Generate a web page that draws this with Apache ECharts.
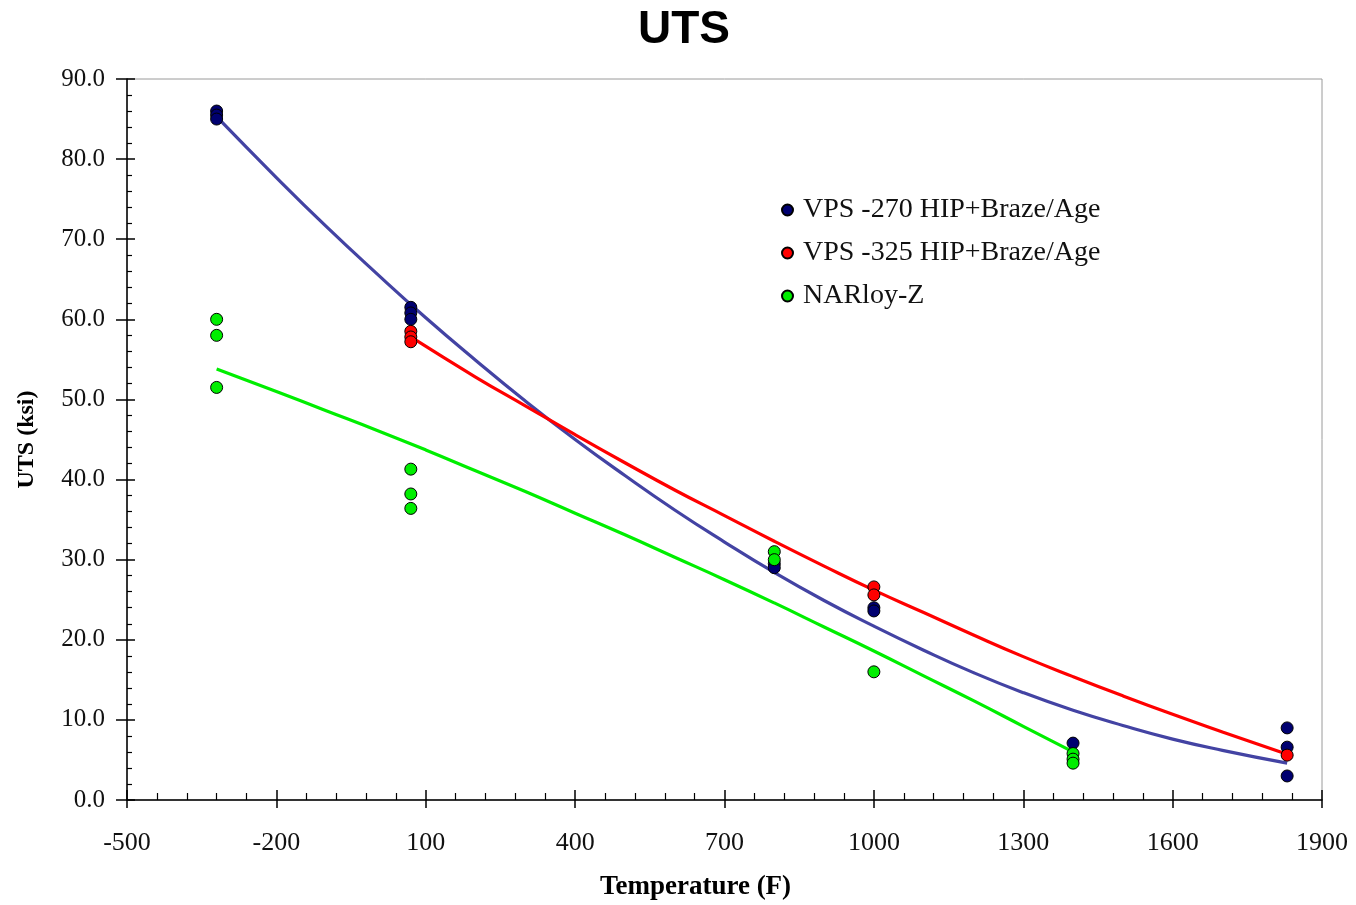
<!DOCTYPE html>
<html>
<head>
<meta charset="utf-8">
<script src="https://cdn.jsdelivr.net/npm/echarts@6/dist/echarts.min.js"></script>
<style>html,body{margin:0;padding:0;background:#fff}#c{width:1356px;height:905px}</style>
</head>
<body>
<div id="c"></div>
<script>
// Measured points
const vps270Temp = [-320, -320, -320, 70, 70, 70, 800, 800, 1000, 1000, 1400, 1830, 1830, 1830];
const vps270Uts  = [86.0, 85.5, 85.0, 61.5, 60.8, 60.0, 29.5, 29.0, 24.0, 23.6, 7.1, 9.0, 6.6, 3.0];
const vps325Temp = [70, 70, 70, 1000, 1000, 1830];
const vps325Uts  = [58.5, 57.8, 57.2, 26.6, 25.6, 5.6];
const narloyTemp = [-320, -320, -320, 70, 70, 70, 800, 800, 1000, 1400, 1400, 1400];
const narloyUts  = [60.0, 58.0, 51.5, 41.3, 38.2, 36.4, 31.0, 30.0, 16.0, 5.8, 5.1, 4.6];
// Trend lines
const trend270Temp = [-320, -200, -100, 0, 100, 200, 300, 400, 500, 600, 700, 800, 900, 1000, 1100, 1200, 1300, 1400, 1500, 1600, 1700, 1830];
const trend270Uts  = [85.3, 77.7, 71.6, 65.8, 60.2, 54.9, 49.8, 45.0, 40.5, 36.2, 32.2, 28.4, 24.9, 21.7, 18.7, 15.9, 13.4, 11.2, 9.3, 7.6, 6.2, 4.6];
const trend325Temp = [70, 200, 300, 400, 500, 600, 700, 800, 900, 1000, 1100, 1200, 1300, 1400, 1500, 1600, 1700, 1830];
const trend325Uts  = [57.8, 52.8, 49.2, 45.6, 42.1, 38.7, 35.5, 32.3, 29.2, 26.2, 23.4, 20.6, 17.9, 15.4, 13.0, 10.7, 8.5, 5.7];
const trendNarTemp = [-320, -200, -100, 0, 100, 200, 300, 400, 500, 600, 700, 800, 900, 1000, 1100, 1200, 1300, 1400];
const trendNarUts  = [53.8, 51.0, 48.6, 46.2, 43.7, 41.1, 38.5, 35.8, 33.1, 30.3, 27.5, 24.6, 21.6, 18.6, 15.5, 12.4, 9.2, 6.0];
const seriesNames = ['VPS -270 HIP+Braze/Age', 'VPS -325 HIP+Braze/Age', 'NARloy-Z'];

const zip = (a, b) => a.map((v, i) => [v, b[i]]);
const serif = '"Liberation Serif", "Times New Roman", serif';
const gridRect = { left: 127, right: 34, top: 79, bottom: 105, outerBoundsMode: 'none', containLabel: false };

const chart = echarts.init(document.getElementById('c'));
chart.setOption({
  animation: false,
  backgroundColor: '#fff',
  title: {
    text: 'UTS', left: 633, top: 2,
    textStyle: { fontFamily: '"Liberation Sans", Arial, sans-serif', fontWeight: 'bold', fontSize: 46, color: '#000' }
  },
  legend: {
    data: seriesNames, orient: 'vertical', left: 776, top: 191,
    itemWidth: 11, itemHeight: 11, itemGap: 15, icon: 'circle',
    textStyle: { fontFamily: serif, fontSize: 28, color: '#111', lineHeight: 27, padding: [0, 0, 0, 5] }
  },
  grid: [
    Object.assign({ show: true, borderColor: '#9a9a9a', borderWidth: 1 }, gridRect),
    Object.assign({ show: false }, gridRect)
  ],
  xAxis: [
    {
      type: 'value', gridIndex: 0, min: -500, max: 1900, interval: 300,
      name: 'Temperature (F)', nameLocation: 'middle', nameGap: 74,
      nameTextStyle: { fontFamily: serif, fontWeight: 'bold', fontSize: 27, color: '#000', padding: [0, 58, 0, 0] },
      axisLine: { show: true, onZero: false, lineStyle: { color: '#000', width: 1.5 } },
      axisTick: { show: true, inside: false, length: 8, lineStyle: { color: '#000', width: 1.5 } },
      axisLabel: { fontFamily: serif, fontSize: 26, color: '#111', margin: 30, formatter: v => String(v) },
      splitLine: { show: false }
    },
    {
      type: 'value', gridIndex: 1, min: -500, max: 1900, interval: 300,
      axisLine: { show: false, onZero: false },
      axisTick: { show: true, inside: true, length: 10, lineStyle: { color: '#000', width: 1.5 } },
      minorTick: { show: true, splitNumber: 5, length: 7, lineStyle: { color: '#000', width: 1.2 } },
      axisLabel: { show: false }, splitLine: { show: false }
    }
  ],
  yAxis: [
    {
      type: 'value', gridIndex: 0, min: 0, max: 90, interval: 10,
      name: 'UTS (ksi)', nameLocation: 'middle', nameGap: 88, nameRotate: 90,
      nameTextStyle: { fontFamily: serif, fontWeight: 'bold', fontSize: 24, color: '#000', padding: [0, 0, 0, 0] },
      axisLine: { show: true, onZero: false, lineStyle: { color: '#000', width: 1.5 } },
      axisTick: { show: true, inside: false, length: 11, lineStyle: { color: '#000', width: 1.5 } },
      axisLabel: { fontFamily: serif, fontSize: 25, color: '#111', margin: 22, formatter: v => v.toFixed(1) },
      splitLine: { show: false }
    },
    {
      type: 'value', gridIndex: 1, min: 0, max: 90, interval: 10,
      axisLine: { show: false, onZero: false },
      axisTick: { show: true, inside: true, length: 8, lineStyle: { color: '#000', width: 1.5 } },
      minorTick: { show: true, splitNumber: 5, length: 5, lineStyle: { color: '#000', width: 1.2 } },
      axisLabel: { show: false }, splitLine: { show: false }
    }
  ],
  series: [
    { name: 'trend270', type: 'line', smooth: true, showSymbol: false, data: zip(trend270Temp, trend270Uts),
      lineStyle: { color: '#4343a3', width: 3.2 }, z: 2, silent: true },
    { name: 'trend325', type: 'line', smooth: true, showSymbol: false, data: zip(trend325Temp, trend325Uts),
      lineStyle: { color: '#ff0000', width: 3.2 }, z: 2, silent: true },
    { name: 'trendNar', type: 'line', smooth: true, showSymbol: false, data: zip(trendNarTemp, trendNarUts),
      lineStyle: { color: '#00ee00', width: 3.2 }, z: 2, silent: true },
    { name: seriesNames[0], type: 'scatter', symbolSize: 12, data: zip(vps270Temp, vps270Uts),
      itemStyle: { color: '#000070', borderColor: '#000', borderWidth: 1, opacity: 1 }, z: 3 },
    { name: seriesNames[1], type: 'scatter', symbolSize: 12, data: zip(vps325Temp, vps325Uts),
      itemStyle: { color: '#ff0000', borderColor: '#000', borderWidth: 1, opacity: 1 }, z: 3 },
    { name: seriesNames[2], type: 'scatter', symbolSize: 12, data: zip(narloyTemp, narloyUts),
      itemStyle: { color: '#00ee00', borderColor: '#000', borderWidth: 1, opacity: 1 }, z: 3 }
  ]
});
</script>
</body>
</html>
